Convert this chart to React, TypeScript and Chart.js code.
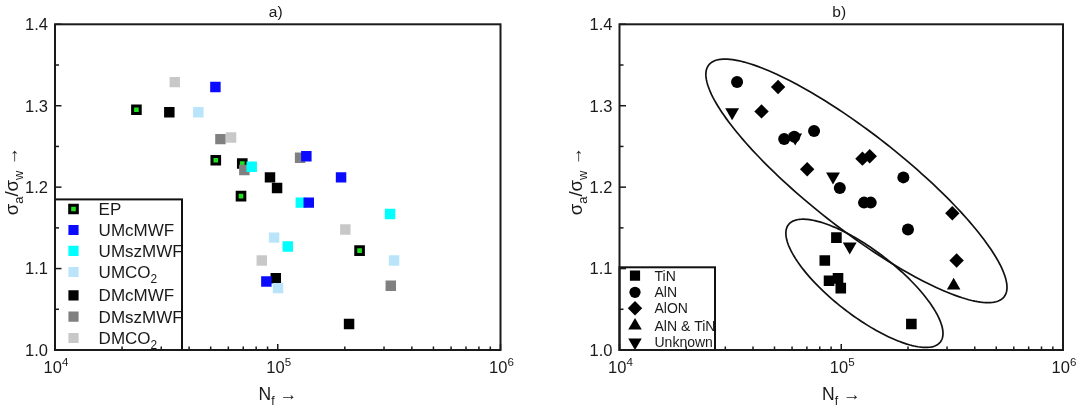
import React, { useEffect, useRef } from 'react';
import { Chart, registerables } from 'chart.js';

Chart.register(...registerables);

// ---------------- Data: panel a) ----------------
const EP_N = [23200, 52700, 69300, 68400, 233000];
const EP_R = [1.295, 1.233, 1.229, 1.189, 1.122];
const UMcMWF_N = [52500, 134400, 192400, 137800, 88900];
const UMcMWF_R = [1.323, 1.238, 1.212, 1.181, 1.084];
const UMszMWF_N = [76400, 126900, 319400, 110900];
const UMszMWF_R = [1.225, 1.181, 1.167, 1.127];
const UMCO2_N = [44000, 96300, 332800, 100300];
const UMCO2_R = [1.292, 1.138, 1.110, 1.076];
const DMcMWF_N = [32600, 92300, 99300, 98000, 209000];
const DMcMWF_R = [1.292, 1.212, 1.199, 1.088, 1.032];
const DMszMWF_N = [55300, 126000, 70800, 321700];
const DMszMWF_R = [1.259, 1.236, 1.221, 1.079];
const DMCO2_N = [34500, 61700, 201100, 84800];
const DMCO2_R = [1.329, 1.261, 1.148, 1.110];

// ---------------- Data: panel b) ----------------
const TiN_N = [95100, 84300, 88100, 96700, 99500, 207100];
const TiN_R = [1.138, 1.110, 1.085, 1.088, 1.076, 1.032];
const AlN_N = [33900, 55300, 61400, 75400, 98500, 126700, 135800, 190600, 199900];
const AlN_R = [1.329, 1.259, 1.262, 1.269, 1.199, 1.181, 1.181, 1.212, 1.148];
const AlON_N = [51900, 43700, 70200, 124600, 134400, 316900, 331300];
const AlON_R = [1.323, 1.293, 1.222, 1.235, 1.238, 1.168, 1.110];
const AlNTiN_N = [321300];
const AlNTiN_R = [1.079];
const Unknown_N = [32200, 62000, 91800, 109200];
const Unknown_R = [1.292, 1.261, 1.213, 1.127];

// Ellipses of panel b) in data units (log10 N, sigma ratio)
const ELL_CENTER_LOGN = [5.0685, 5.1045];
const ELL_CENTER_R = [1.2077, 1.0819];
const ELL_MAJOR = [[0.666, -0.1424], [0.3426, -0.072]];
const ELL_MINOR = [[-0.132, -0.0459], [-0.0901, -0.0319]];

// Axis ticks
const Y_TICKS = [1.0, 1.05, 1.1, 1.15, 1.2, 1.25, 1.3, 1.35, 1.4];
const Y_LABELS = ['1.0', '', '1.1', '', '1.2', '', '1.3', '', '1.4'];
const X_DECADES = [4, 5, 6];
const X_MINOR_MULT = [2, 3, 4, 5, 6, 7, 8, 9];

const FONT = '"Liberation Sans", Arial, Helvetica, sans-serif';
const TEXT = '#1a1a1a';

type Run = { t: string; s?: 'sub' | 'sup' };

function fontFor(r: Run, size: number) {
  const sz = r.s ? size * 0.7 : size;
  return `${sz}px ${FONT}`;
}

function drawRuns(ctx: CanvasRenderingContext2D, runs: Run[], x: number, y: number, size: number, align: 'left' | 'center' | 'right') {
  const widths = runs.map((r) => {
    ctx.font = fontFor(r, size);
    return ctx.measureText(r.t).width;
  });
  const total = widths.reduce((a, b) => a + b, 0);
  let cx = align === 'center' ? x - total / 2 : align === 'right' ? x - total : x;
  ctx.textAlign = 'left';
  ctx.textBaseline = 'alphabetic';
  runs.forEach((r, i) => {
    ctx.font = fontFor(r, size);
    const dy = r.s === 'sub' ? size * 0.28 : r.s === 'sup' ? -size * 0.42 : 0;
    ctx.fillText(r.t, cx, y + dy);
    cx += widths[i];
  });
}

function drawMarker(ctx: CanvasRenderingContext2D, style: string, x: number, y: number, r: number, fill: string, stroke?: string, bw?: number) {
  ctx.beginPath();
  if (style === 'rect') {
    const h = r * Math.SQRT1_2;
    ctx.rect(x - h, y - h, 2 * h, 2 * h);
  } else if (style === 'circle') {
    ctx.arc(x, y, r, 0, Math.PI * 2);
  } else if (style === 'rectRot') {
    ctx.moveTo(x - r, y);
    ctx.lineTo(x, y - r);
    ctx.lineTo(x + r, y);
    ctx.lineTo(x, y + r);
    ctx.closePath();
  } else if (style === 'triangle' || style === 'triangleDown') {
    const s = style === 'triangle' ? 1 : -1;
    for (let k = 0; k < 3; k++) {
      const a = (k * 2 * Math.PI) / 3;
      const px = x + Math.sin(a) * r;
      const py = y - s * Math.cos(a) * r;
      if (k === 0) ctx.moveTo(px, py);
      else ctx.lineTo(px, py);
    }
    ctx.closePath();
  }
  ctx.fillStyle = fill;
  ctx.fill();
  if (stroke && bw) {
    ctx.strokeStyle = stroke;
    ctx.lineWidth = bw;
    ctx.stroke();
  }
}

type LegendItem = { runs: Run[]; style: string; r: number; fill: string; stroke?: string; bw?: number };

type PanelCfg = {
  title: string;
  legendItems: LegendItem[];
  legendBox: { right: number; top: number };
  legendRowOffsets: number[];
  legendMarkerDx: number;
  legendTextDx: number;
  legendFont: number;
  ellipses: boolean;
};

function makePlugin(cfg: PanelCfg) {
  return {
    id: 'panelDecor',
    beforeDatasetsDraw(chart: any) {
      if (!cfg.ellipses) return;
      const ctx: CanvasRenderingContext2D = chart.ctx;
      const xs = chart.scales.x;
      const ys = chart.scales.y;
      ctx.save();
      ctx.strokeStyle = '#111';
      ctx.lineWidth = 1.7;
      for (let e = 0; e < ELL_CENTER_LOGN.length; e++) {
        ctx.beginPath();
        for (let i = 0; i <= 200; i++) {
          const t = (i / 200) * Math.PI * 2;
          const lx = ELL_CENTER_LOGN[e] + Math.cos(t) * ELL_MAJOR[e][0] + Math.sin(t) * ELL_MINOR[e][0];
          const ly = ELL_CENTER_R[e] + Math.cos(t) * ELL_MAJOR[e][1] + Math.sin(t) * ELL_MINOR[e][1];
          const px = xs.getPixelForValue(Math.pow(10, lx));
          const py = ys.getPixelForValue(ly);
          if (i === 0) ctx.moveTo(px, py);
          else ctx.lineTo(px, py);
        }
        ctx.closePath();
        ctx.stroke();
      }
      ctx.restore();
    },
    afterDatasetsDraw(chart: any) {
      const ctx: CanvasRenderingContext2D = chart.ctx;
      const ca = chart.chartArea;
      const xs = chart.scales.x;
      const ys = chart.scales.y;
      ctx.save();

      // legend box
      const lb = { left: ca.left, top: cfg.legendBox.top, right: cfg.legendBox.right, bottom: ca.bottom };
      ctx.fillStyle = '#fff';
      ctx.fillRect(lb.left, lb.top, lb.right - lb.left, lb.bottom - lb.top);
      ctx.strokeStyle = '#111';
      ctx.lineWidth = 2;
      ctx.strokeRect(lb.left, lb.top, lb.right - lb.left, lb.bottom - lb.top);
      ctx.save();
      ctx.beginPath();
      ctx.rect(lb.left, lb.top, lb.right - lb.left - 1, lb.bottom - lb.top);
      ctx.clip();
      cfg.legendItems.forEach((it, i) => {
        const y = lb.top + cfg.legendRowOffsets[i];
        drawMarker(ctx, it.style, lb.left + cfg.legendMarkerDx, y, it.r, it.fill, it.stroke, it.bw);
        ctx.fillStyle = TEXT;
        drawRuns(ctx, it.runs, lb.left + cfg.legendTextDx, y + cfg.legendFont * 0.36, cfg.legendFont, 'left');
      });
      ctx.restore();

      // frame
      ctx.strokeStyle = '#1a1a1a';
      ctx.lineWidth = 2;
      ctx.strokeRect(ca.left, ca.top, ca.right - ca.left, ca.bottom - ca.top);

      // y ticks (inward) + labels
      ctx.lineWidth = 1.5;
      Y_TICKS.forEach((v, i) => {
        const py = ys.getPixelForValue(v);
        const major = Y_LABELS[i] !== '';
        ctx.beginPath();
        ctx.moveTo(ca.left, py);
        ctx.lineTo(ca.left + (major ? 6.5 : 4), py);
        ctx.stroke();
        if (major) {
          ctx.fillStyle = TEXT;
          drawRuns(ctx, [{ t: Y_LABELS[i] }], ca.left - 7, py + 5.9, 16.5, 'right');
        }
      });

      // x ticks (inward) + labels
      X_DECADES.forEach((d) => {
        const base = Math.pow(10, d);
        const px = xs.getPixelForValue(base);
        ctx.beginPath();
        ctx.moveTo(px, ca.bottom);
        ctx.lineTo(px, ca.bottom - 6);
        ctx.stroke();
        ctx.fillStyle = TEXT;
        drawRuns(ctx, [{ t: '10' }, { t: String(d), s: 'sup' }], px + 1, ca.bottom + 23.3, 16.5, 'center');
        if (d < 6) {
          X_MINOR_MULT.forEach((m) => {
            const mx = xs.getPixelForValue(m * base);
            ctx.beginPath();
            ctx.moveTo(mx, ca.bottom);
            ctx.lineTo(mx, ca.bottom - 3.5);
            ctx.stroke();
          });
        }
      });

      // axis titles
      const cx = (ca.left + ca.right) / 2;
      ctx.fillStyle = TEXT;
      drawRuns(ctx, [{ t: 'N' }, { t: 'f', s: 'sub' }, { t: ' \u2192' }], cx, ca.bottom + 50, 17.5, 'center');
      ctx.save();
      ctx.translate(ca.left - 37.5, (ca.top + ca.bottom) / 2 - 6);
      ctx.rotate(-Math.PI / 2);
      drawRuns(ctx, [{ t: '\u03c3' }, { t: 'a', s: 'sub' }, { t: '/\u03c3' }, { t: 'w', s: 'sub' }, { t: ' \u2192' }], 0, 0, 18.5, 'center');
      ctx.restore();

      // panel title
      drawRuns(ctx, [{ t: cfg.title }], cx - 2, 17, 15.5, 'center');
      ctx.restore();
    },
  };
}

function pts(xs: number[], ys: number[]) {
  return xs.map((x, i) => ({ x, y: ys[i] }));
}

const C_EP = '#1fe01f';
const C_BLUE = '#0a0aff';
const C_CYAN = '#00ffff';
const C_LBLUE = '#bae4fa';
const C_BLACK = '#000000';
const C_GRAY = '#808080';
const C_LGRAY = '#c8c8c8';

function sq(label: string, n: number[], r: number[], color: string) {
  return {
    type: 'scatter' as const,
    label,
    data: pts(n, r),
    pointStyle: 'rect',
    pointRadius: 7.4,
    pointBackgroundColor: color,
    pointBorderColor: color,
    pointBorderWidth: 0,
  };
}

function blk(label: string, n: number[], r: number[], style: string, radius: number, rot = 0) {
  return {
    type: 'scatter' as const,
    label,
    data: pts(n, r),
    pointStyle: style,
    pointRotation: rot,
    pointRadius: radius,
    pointBackgroundColor: '#000',
    pointBorderColor: '#000',
    pointBorderWidth: 0,
  };
}

function baseOptions(padding: any) {
  return {
    responsive: false,
    animation: false,
    events: [],
    layout: { padding },
    plugins: { legend: { display: false }, tooltip: { enabled: false }, title: { display: false } },
    scales: {
      x: { type: 'logarithmic', min: 1e4, max: 1e6, display: false },
      y: { type: 'linear', min: 1.0, max: 1.4, display: false },
    },
  };
}

const PANEL_A: PanelCfg = {
  title: 'a)',
  legendItems: [
    { runs: [{ t: 'EP' }], style: 'rect', r: 5.4, fill: C_EP, stroke: '#000', bw: 3 },
    { runs: [{ t: 'UMcMWF' }], style: 'rect', r: 7.2, fill: C_BLUE },
    { runs: [{ t: 'UMszMWF' }], style: 'rect', r: 7.2, fill: C_CYAN },
    { runs: [{ t: 'UMCO' }, { t: '2', s: 'sub' }], style: 'rect', r: 7.2, fill: C_LBLUE },
    { runs: [{ t: 'DMcMWF' }], style: 'rect', r: 7.2, fill: C_BLACK },
    { runs: [{ t: 'DMszMWF' }], style: 'rect', r: 7.2, fill: C_GRAY },
    { runs: [{ t: 'DMCO' }, { t: '2', s: 'sub' }], style: 'rect', r: 7.2, fill: C_LGRAY },
  ],
  legendBox: { right: 182, top: 199.4 },
  legendRowOffsets: [9.6, 30.6, 51.4, 72.6, 95.9, 117.3, 138.6],
  legendMarkerDx: 18.5,
  legendTextDx: 43.6,
  legendFont: 17,
  ellipses: false,
};

const PANEL_B: PanelCfg = {
  title: 'b)',
  legendItems: [
    { runs: [{ t: 'TiN' }], style: 'rect', r: 7.2, fill: '#000' },
    { runs: [{ t: 'AlN' }], style: 'circle', r: 5.6, fill: '#000' },
    { runs: [{ t: 'AlON' }], style: 'rectRot', r: 7.2, fill: '#000' },
    { runs: [{ t: 'AlN & TiN' }], style: 'triangle', r: 7.8, fill: '#000' },
    { runs: [{ t: 'Unknown' }], style: 'triangleDown', r: 7.8, fill: '#000' },
  ],
  legendBox: { right: 715 - 540, top: 267.3 },
  legendRowOffsets: [8.4, 25.0, 41.0, 58.4, 75.0],
  legendMarkerDx: 15.5,
  legendTextDx: 35,
  legendFont: 14,
  ellipses: true,
};

function PanelA() {
  const ref = useRef<HTMLCanvasElement>(null);
  useEffect(() => {
    if (!ref.current) return;
    const chart = new Chart(ref.current, {
      type: 'scatter',
      data: {
        datasets: [
          sq('UMcMWF', UMcMWF_N, UMcMWF_R, C_BLUE),
          sq('UMszMWF', UMszMWF_N, UMszMWF_R, C_CYAN),
          sq('UMCO2', UMCO2_N, UMCO2_R, C_LBLUE),
          sq('DMcMWF', DMcMWF_N, DMcMWF_R, C_BLACK),
          sq('DMCO2', DMCO2_N, DMCO2_R, C_LGRAY),
          sq('DMszMWF', DMszMWF_N, DMszMWF_R, C_GRAY),
          {
            type: 'scatter' as const,
            label: 'EP',
            data: pts(EP_N, EP_R),
            pointStyle: 'rect',
            pointRadius: 5.4,
            pointBackgroundColor: C_EP,
            pointBorderColor: '#000',
            pointBorderWidth: 3,
          },
        ] as any,
      },
      options: baseOptions({ left: 55, right: 39.5, top: 24.3, bottom: 56 }) as any,
      plugins: [makePlugin(PANEL_A)],
    });
    return () => chart.destroy();
  }, []);
  return <canvas ref={ref} width={540} height={406} style={{ display: 'block' }} />;
}

function PanelB() {
  const ref = useRef<HTMLCanvasElement>(null);
  useEffect(() => {
    if (!ref.current) return;
    const chart = new Chart(ref.current, {
      type: 'scatter',
      data: {
        datasets: [
          blk('TiN', TiN_N, TiN_R, 'rect', 7.5),
          blk('AlN', AlN_N, AlN_R, 'circle', 6),
          blk('AlON', AlON_N, AlON_R, 'rectRot', 7.2),
          blk('AlN & TiN', AlNTiN_N, AlNTiN_R, 'triangle', 7.8),
          blk('Unknown', Unknown_N, Unknown_R, 'triangle', 8, 180),
        ] as any,
      },
      options: baseOptions({ left: 79.5, right: 17, top: 24.3, bottom: 56 }) as any,
      plugins: [makePlugin(PANEL_B)],
    });
    return () => chart.destroy();
  }, []);
  return <canvas ref={ref} width={540} height={406} style={{ display: 'block' }} />;
}

export default function App() {
  return (
    <div style={{ position: 'absolute', left: 0, top: 0, width: 1080, height: 406, background: '#fff', display: 'flex' }}>
      <PanelA />
      <PanelB />
    </div>
  );
}
